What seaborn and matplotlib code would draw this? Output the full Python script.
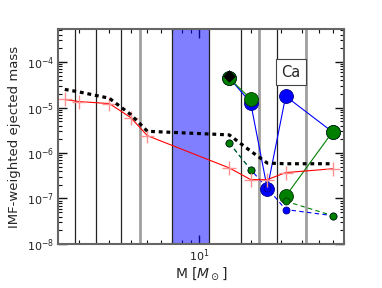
import numpy as np
import pandas as pd
import matplotlib
matplotlib.use("Agg")
import matplotlib.pyplot as plt
import seaborn as sns
from matplotlib.ticker import NullFormatter, LogLocator

sns.set_style("ticks")
plt.rcParams["font.family"] = ["DejaVu Sans"]
plt.rcParams["mathtext.fontset"] = "dejavusans"

# === Data ===
masses = [1.65, 2, 3, 4, 5, 15, 20, 25, 32, 60]
red_yield = [1.5e-5, 1.35e-5, 1.22e-5, 6.0e-6, 2.4e-6, 4.7e-7, 2.6e-7, 2.6e-7, 3.7e-7, 4.5e-7]
black_yield = [2.5e-5, 2.2e-5, 1.6e-5, 7.0e-6, 3.0e-6, 2.5e-6, 1.1e-6, 6.0e-7, 5.8e-7, 5.8e-7]

cc_masses = [15, 20, 25, 32, 60]
blue_big = [4.5e-5, 1.27e-5, 1.65e-7, 1.77e-5, 2.9e-6]
green_big = [4.4e-5, 1.55e-5, np.nan, 1.12e-7, 2.9e-6]
blue_small = [1.67e-6, 4.3e-7, 1.7e-7, 5.7e-8, 4.2e-8]
green_small = [1.67e-6, 4.3e-7, np.nan, 8.7e-8, 4.2e-8]
diamond_mass = [15]
diamond_yield = [5.0e-5]

bin_edges_black = [1.9, 2.5, 3.5, 17.5, 28.5]
bin_edges_gray = [4.5, 22.5, 42]
band = (7, 11.5)


def segments(x, y):
    # split a series at NaNs so the line breaks there
    df = pd.DataFrame({"M": x, "Y": y})
    df["seg"] = df["Y"].isna().cumsum()
    return df.dropna()


fig = plt.figure(figsize=(3.82, 2.88), dpi=100)
ax = fig.add_axes([0.151, 0.153, 0.7495, 0.746])
ax.set_xscale("log")
ax.set_yscale("log")

ax.axvspan(*band, color="blue", alpha=0.5, lw=0, zorder=1)
for m in band + tuple(bin_edges_black):
    ax.axvline(m, color="#222222", lw=0.9, zorder=1.5)
for m in bin_edges_gray:
    ax.axvline(m, color="#a0a0a0", lw=2.0, zorder=1.5)

sns.lineplot(data=segments(cc_masses, blue_big), x="M", y="Y", units="seg", estimator=None,
             color="blue", lw=0.8, marker="o", markersize=10, markeredgecolor="#00008b",
             markeredgewidth=0.6, legend=False, ax=ax, zorder=3)
sns.lineplot(data=segments(cc_masses, green_big), x="M", y="Y", units="seg", estimator=None,
             color="green", lw=0.8, marker="o", markersize=10, markeredgecolor="#003300",
             markeredgewidth=0.6, legend=False, ax=ax, zorder=3)
sns.lineplot(data=segments(cc_masses, blue_small), x="M", y="Y", units="seg", estimator=None,
             color="blue", lw=0.8, ls=(0, (4, 3)), marker="o", markersize=5,
             markeredgecolor="#00008b", markeredgewidth=0.6, legend=False, ax=ax, zorder=3)
sns.lineplot(data=segments(cc_masses, green_small), x="M", y="Y", units="seg", estimator=None,
             color="green", lw=0.8, ls=(0, (4, 3)), marker="o", markersize=5,
             markeredgecolor="#003300", markeredgewidth=0.6, legend=False, ax=ax, zorder=3)
sns.scatterplot(x=diamond_mass, y=diamond_yield, marker="D", s=35, color="black",
                edgecolor="black", ax=ax, zorder=4)

sns.lineplot(x=masses, y=red_yield, color="red", lw=0.8, marker="+", markersize=10,
             markeredgecolor="#ff9090", markeredgewidth=1.0, legend=False, ax=ax, zorder=3.5)
sns.lineplot(x=masses, y=black_yield, color="black", lw=2.3, ls=(0, (1.2, 1.2)),
             legend=False, ax=ax, zorder=3.6)

ax.set_xlim(1.5, 70)
ax.set_ylim(1e-8, 5.3e-4)
ax.yaxis.set_major_locator(LogLocator(base=10, numticks=10))
ax.yaxis.set_minor_locator(LogLocator(base=10, subs=np.arange(2, 10), numticks=20))
ax.xaxis.set_minor_locator(LogLocator(base=10, subs=np.arange(2, 10), numticks=20))
ax.xaxis.set_minor_formatter(NullFormatter())
ax.yaxis.set_minor_formatter(NullFormatter())

ax.tick_params(which="both", direction="in", top=True, right=True, colors="#111111",
               labelsize=8, labelcolor="#222222", pad=2.5)
ax.tick_params(which="major", length=6.5, width=1.0)
ax.tick_params(which="minor", length=3, width=0.8)
for sp in ax.spines.values():
    sp.set_color("#666666")
    sp.set_linewidth(1.5)
    sp.set_zorder(5)

ax.text(0.815, 0.80, "Ca", transform=ax.transAxes, ha="center", va="center", fontsize=10.5,
        bbox=dict(boxstyle="square,pad=0.35", fc="white", ec="#444444", lw=0.8), zorder=6)

ax.set_xlabel(r"M [$M_\odot$]", fontsize=10, labelpad=1)
ax.set_ylabel("IMF-weighted ejected mass", fontsize=9.5, labelpad=4)

fig.savefig("out.png", dpi=100)
